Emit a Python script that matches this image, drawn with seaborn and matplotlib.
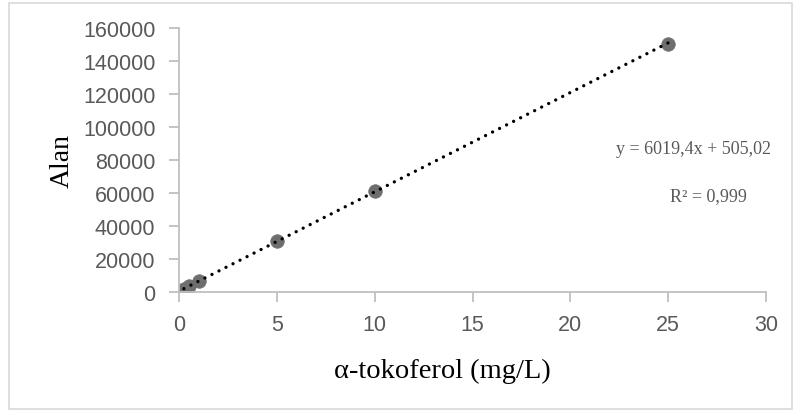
import matplotlib
matplotlib.use("Agg")
import matplotlib.pyplot as plt
import seaborn as sns
import numpy as np
import pandas as pd
from matplotlib.patches import Rectangle

x_vals = [0.25, 0.5, 1, 5, 10, 25]
y_vals = [1800, 3400, 6600, 31000, 61300, 150500]
slope = 6019.4
intercept = 505.02
eq_text = "y = 6019,4x + 505,02"
r2_text = "R² = 0,999"
x_ticks = [0, 5, 10, 15, 20, 25, 30]
y_ticks = [0, 20000, 40000, 60000, 80000, 100000, 120000, 140000, 160000]

sns.set_style("white")
plt.rcParams['font.family'] = ['Liberation Sans', 'DejaVu Sans']

df = pd.DataFrame({"x": x_vals, "y": y_vals})
fit_x = np.array([min(x_vals), max(x_vals)])
fit_df = pd.DataFrame({"x": fit_x, "y": slope * fit_x + intercept})

fig = plt.figure(figsize=(8.01, 4.14), dpi=100)
ax = fig.add_axes([179/801, 1-293/414, (766-179)/801, (293-29)/414])

sns.scatterplot(data=df, x="x", y="y", ax=ax, s=95, color="#6e6e6e",
                edgecolor="#6e6e6e", linewidth=0.5, zorder=2)
sns.lineplot(data=fit_df, x="x", y="y", ax=ax, color="black",
             linestyle=(0, (0.01, 2.35)), linewidth=2.4, zorder=3,
             dash_capstyle="round")

ax.set_xlim(0, 30)
ax.set_ylim(0, 160000)
ax.set_xticks(x_ticks)
ax.set_yticks(y_ticks)
ax.set_xticklabels([str(t) for t in x_ticks])
ax.set_yticklabels([str(t) for t in y_ticks])
for side in ["top", "right"]:
    ax.spines[side].set_visible(False)
for side in ["left", "bottom"]:
    ax.spines[side].set_color("#bfbfbf")
    ax.spines[side].set_linewidth(1.3)
ax.tick_params(axis="both", which="major", direction="out", length=7, width=1.3,
               color="#bfbfbf", labelcolor="#595959", labelsize=15.5,
               bottom=True, left=True)
ax.tick_params(axis="y", pad=10)
ax.tick_params(axis="x", pad=9)

ax.set_xlabel("α-tokoferol (mg/L)", fontsize=20.5, family=["Liberation Serif"],
              color="black")
ax.xaxis.set_label_coords((442-179)/587, -0.25)
ax.set_ylabel("Alan", fontsize=20, family=["Liberation Serif"], color="black")
ax.yaxis.set_label_coords(-(179-62)/587, 0.5)
ax.yaxis.label.set_va("center")

fig.text(693/801, 1-149/414, eq_text, ha="center", va="center", fontsize=13,
         family=["Liberation Serif"], color="#595959")
fig.text(708/801, 1-197/414, r2_text, ha="center", va="center", fontsize=13,
         family=["Liberation Serif"], color="#595959")

fig.patches.append(Rectangle((9/801, 4/414), (792-9)/801, (410-4)/414,
                             transform=fig.transFigure, fill=False,
                             edgecolor="#d9d9d9", linewidth=1.2))

fig.savefig("out.png", dpi=100)
